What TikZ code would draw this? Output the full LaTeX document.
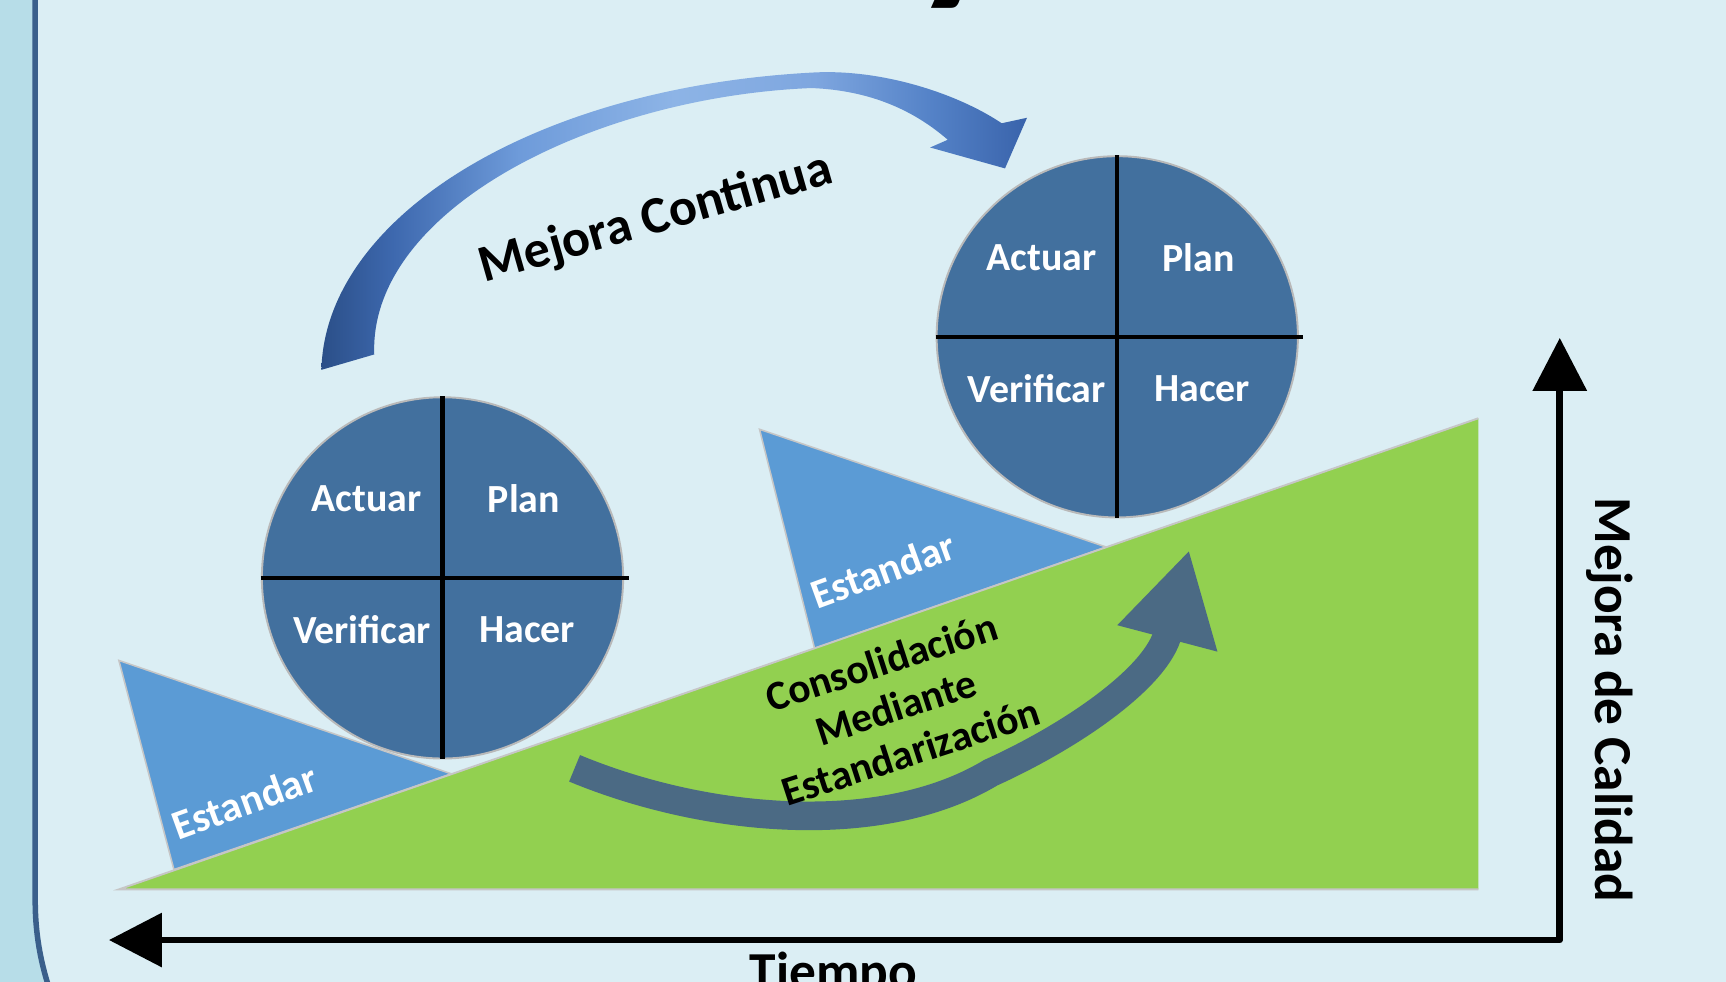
\documentclass[tikz,border=0pt]{standalone}
\usepackage{fontspec}
\setmainfont{Carlito}
\usepackage{xcolor}
\usepackage{tikz}
\usetikzlibrary{arrows.meta, calc}

\definecolor{stripblue}{HTML}{B7DDE8}
\definecolor{panelblue}{HTML}{DBEEF4}
\definecolor{frameblue}{HTML}{3A5F8B}
\definecolor{stdblue}{HTML}{5B9BD5}
\definecolor{slopegreen}{HTML}{92D050}
\definecolor{wheelblue}{HTML}{42709E}
\definecolor{consarrow}{HTML}{4B6A84}
\definecolor{mejA}{HTML}{2B4F88}
\definecolor{mejB}{HTML}{3D68AE}
\definecolor{mejC}{HTML}{6E9BDA}
\definecolor{mejD}{HTML}{8DB4E6}
\definecolor{mejE}{HTML}{7EA6DF}
\definecolor{mejF}{HTML}{5583C8}
\definecolor{mejG}{HTML}{3963AB}
\pgfdeclarehorizontalshading{mejshade}{100bp}{color(0bp)=(mejA); color(25bp)=(mejA); color(30bp)=(mejB); color(39bp)=(mejC); color(50bp)=(mejD); color(60bp)=(mejE); color(68bp)=(mejF); color(75bp)=(mejG); color(100bp)=(mejG)}

\begin{document}
\begin{tikzpicture}[x=0.01cm, y=-0.01cm]
\tikzstyle{wheel} = [circle, draw=gray!55, line width=0.5pt, fill=wheelblue, minimum size=3.28cm, inner sep=0pt]
\tikzstyle{quad} = [text=white, font=\fontsize{10.3}{12}\selectfont\bfseries, inner sep=0pt]
\tikzstyle{cross} = [line width=0.04cm, black]
\tikzstyle{stdlbl} = [text=white, font=\fontsize{10.7}{12}\selectfont\bfseries, rotate=20]
\tikzstyle{axis} = [line width=0.06cm, line join=round, {Triangle[length=0.48cm, width=0.48cm]}-{Triangle[length=0.48cm, width=0.48cm]}]
\tikzstyle{bigtext} = [font=\fontsize{13.8}{16}\selectfont\bfseries]

\useasboundingbox (0,0) rectangle (1568,892);
\clip (0,0) rectangle (1568,892);
\fill[stripblue] (0,0) rectangle (1568,892);
\fill[panelblue, rounded corners=2.5cm] (32,-500) -- (32,1069) -- (1900,1069) -- (1900,-500) -- cycle;
\draw[frameblue, line width=0.05cm, rounded corners=2.5cm] (32,-500) -- (32,1069) -- (700,1069);

\node (title) [anchor=base west, inner sep=0pt, font=\fontsize{54}{60}\selectfont\bfseries] at (827,-22) {y};

\filldraw[fill=stdblue, draw=gray!45, line width=0.4pt] (108,600) -- (410,703) -- (158,790) -- cycle;
\filldraw[fill=stdblue, draw=gray!45, line width=0.4pt] (690,390) -- (1005,497) -- (740,589) -- cycle;
\fill[slopegreen] (108,808) -- (1343,380) -- (1343,808) -- cycle;
\draw[gray!45, line width=0.5pt] (1343,380) -- (108,808) -- (1343,808);

\node (wheelA) [wheel] at (402,525) {};
\node (wheelB) [wheel] at (1015,306) {};
\draw[cross] (wheelA.north) -- (wheelA.south);
\draw[cross] (wheelA.west) -- ($(wheelA.east)+(4,0)$);
\draw[cross] (wheelB.north) -- (wheelB.south);
\draw[cross] (wheelB.west) -- ($(wheelB.east)+(4,0)$);

\node (actA) [quad] at ($(wheelA)+(-69,-72)$) {Actuar};
\node (planA) [quad] at ($(wheelA)+(74,-72)$) {Plan};
\node (verA) [quad] at ($(wheelA)+(-73,47)$) {Verificar};
\node (hacA) [quad] at ($(wheelA)+(77,47)$) {Hacer};
\node (actB) [quad] at ($(wheelB)+(-69,-72)$) {Actuar};
\node (planB) [quad] at ($(wheelB)+(74,-72)$) {Plan};
\node (verB) [quad] at ($(wheelB)+(-73,47)$) {Verificar};
\node (hacB) [quad] at ($(wheelB)+(77,47)$) {Hacer};

\node (stdA) [stdlbl] at (222,728) {Estandar};
\node (stdB) [stdlbl] at (802,518) {Estandar};

\coordinate (consTail) at (522,698);
\coordinate (consBase) at (1061,575);
\coordinate (consTip) at (1080,501);
\coordinate (consBarbL) at (1015,568);
\coordinate (consBarbR) at (1106,592);
\draw[consarrow, line width=0.26cm] (consTail) .. controls (640,747) and (800,762) .. (900,702) .. controls (975,668) and (1051,615) .. (consBase);
\fill[consarrow] (consTip) -- (consBarbR) -- (consBarbL) -- cycle;
\node (cons) [rotate=18, align=center, font=\fontsize{10.7}{12.2}\selectfont\bfseries] at (814,642) {Consolidación\\Mediante\\Estandarización};

\shade[shading=mejshade] (292,336) .. controls (295,200) and (480,80) .. (737,66) .. controls (800,62) and (870,85) .. (910,112) -- (933,107) -- (913,153) -- (845,134) -- (861,127) .. controls (830,100) and (790,82) .. (737,80) .. controls (540,88) and (335,190) .. (340,322) -- cycle;
\node (mejora) [rotate=16, font=\fontsize{13.5}{16}\selectfont\bfseries] at (596,199) {Mejora Continua};

\coordinate (origin) at (1417,854);
\coordinate (qualTip) at (1417,307);
\coordinate (timeTip) at (99,854);
\draw[axis] (qualTip) -- (origin) -- (timeTip);
\node (calidad) [bigtext, rotate=-90] at (1462,636) {Mejora de Calidad};
\node (tiempo) [bigtext, anchor=base] at (757,899) {Tiempo};
\end{tikzpicture}
\end{document}
